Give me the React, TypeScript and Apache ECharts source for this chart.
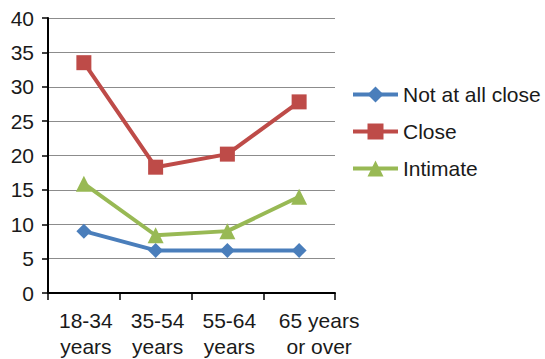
import React, { useEffect, useRef } from "react";
import * as echarts from "echarts";

const categories = ["18-34\nyears", "35-54\nyears", "55-64\nyears", "65 years\nor over"];
const notAtAllClose = [9.0, 6.2, 6.2, 6.2];
const close = [33.5, 18.3, 20.2, 27.8];
const intimate = [15.9, 8.4, 9.0, 14.0];

const FONT = "'Liberation Sans', Arial, sans-serif";

export default function App() {
  const ref = useRef<HTMLDivElement>(null);

  useEffect(() => {
    if (!ref.current) return;
    const chart = echarts.init(ref.current, undefined, { renderer: "svg" });
    const lineSeries = (name: string, data: number[], color: string, symbol: string, size: number) => ({
      name,
      type: "line",
      data,
      symbol,
      symbolSize: size,
      itemStyle: { color },
      lineStyle: { color, width: 4 },
    });
    // the wide last label sits a little right of its slot
    const categoryData = categories.map((c, i) =>
      i === categories.length - 1
        ? { value: c, textStyle: { padding: [0, 0, 0, 40] } }
        : { value: c, textStyle: { padding: [0, 0, 0, 4] } }
    );
    chart.setOption({
      animation: false,
      textStyle: { fontFamily: FONT },
      grid: { left: 48, right: 210, top: 18, bottom: 65 },
      legend: {
        orient: "vertical",
        left: 346,
        top: 79,
        itemWidth: 45,
        itemHeight: 20,
        itemGap: 16,
        lineStyle: { width: 4 },
        textStyle: { fontFamily: FONT, fontSize: 21, color: "#1a1a1a" },
        data: ["Not at all close", "Close", "Intimate"],
      },
      xAxis: {
        type: "category",
        data: categoryData,
        boundaryGap: true,
        axisLine: { lineStyle: { color: "#000", width: 2 } },
        axisTick: { show: true, length: 7, lineStyle: { color: "#000", width: 1.5 } },
        axisLabel: { interval: 0, fontSize: 21, color: "#1a1a1a", lineHeight: 26, margin: 14, fontFamily: FONT },
      },
      yAxis: {
        type: "value",
        min: 0,
        max: 40,
        interval: 5,
        axisLine: { show: true, lineStyle: { color: "#000", width: 2 } },
        axisTick: { show: true, length: 6, lineStyle: { color: "#000", width: 1.5 } },
        axisLabel: { fontSize: 21, color: "#1a1a1a", margin: 14, fontFamily: FONT },
        splitLine: { show: true, lineStyle: { color: "#8c8c8c", width: 1 } },
      },
      series: [
        lineSeries("Not at all close", notAtAllClose, "#4a7ebb", "diamond", 15),
        lineSeries("Close", close, "#be4b48", "rect", 15),
        lineSeries("Intimate", intimate, "#98b954", "triangle", 16),
      ],
    });
    return () => chart.dispose();
  }, []);

  return (
    <div
      ref={ref}
      style={{ position: "absolute", left: 0, top: 0, width: 545, height: 359 }}
    />
  );
}
